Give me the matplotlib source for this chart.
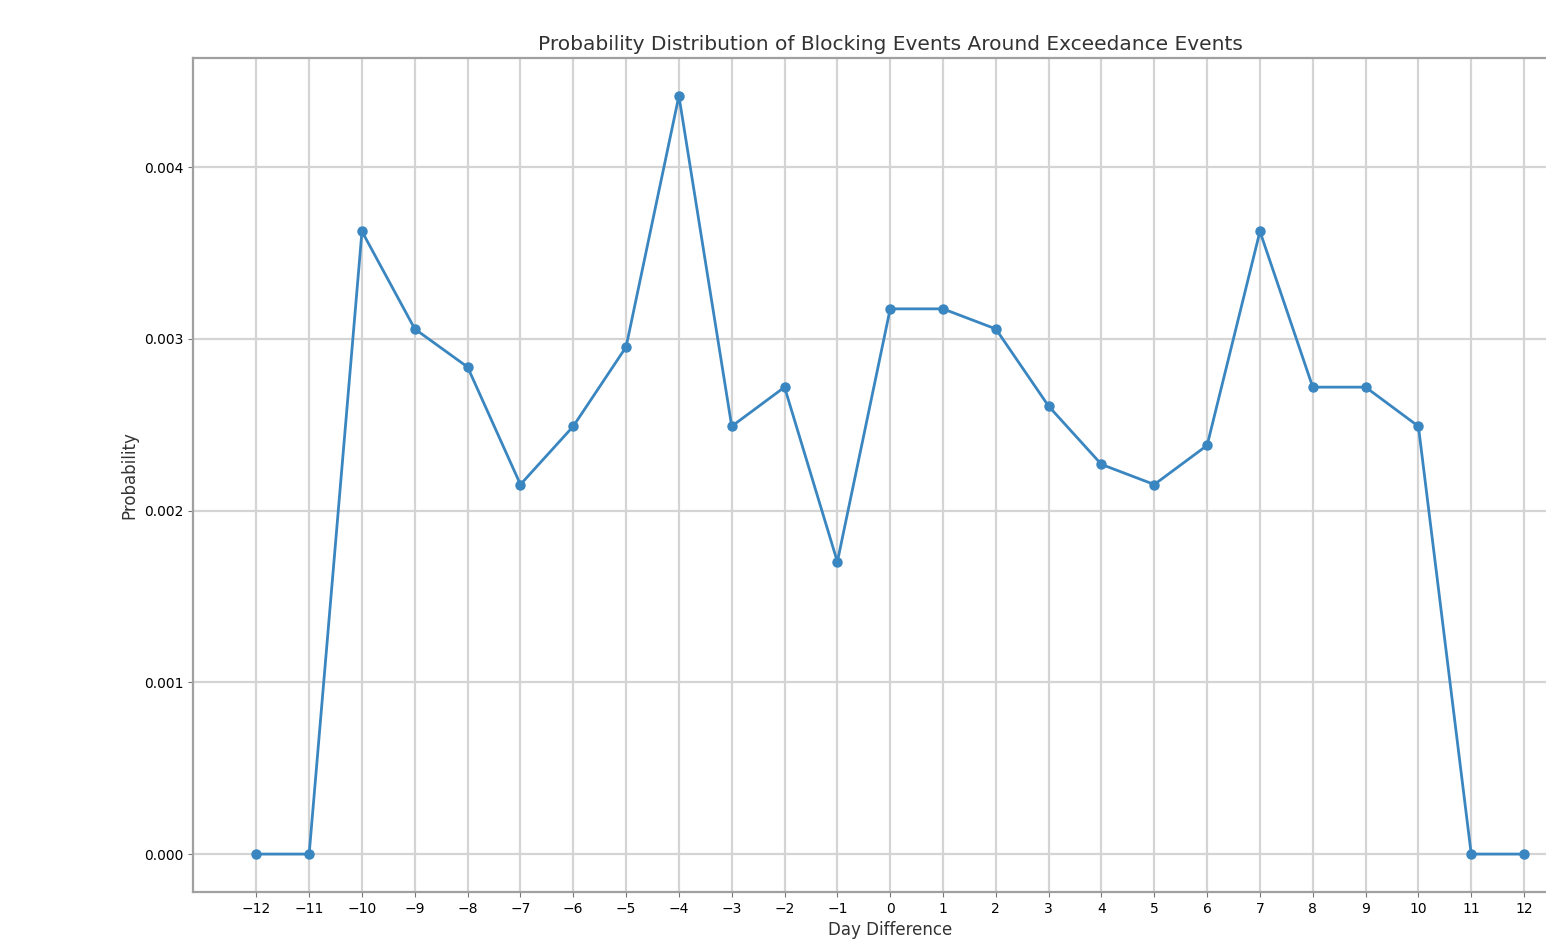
import matplotlib
matplotlib.use("Agg")
import matplotlib.pyplot as plt

day_difference = list(range(-12, 13))
probability = [
    0.0, 0.0, 0.003626, 0.003058, 0.002836, 0.002152, 0.002491, 0.002953,
    0.004415, 0.002491, 0.002719, 0.001702, 0.003175, 0.003175, 0.003058,
    0.002608, 0.002269, 0.002152, 0.002380, 0.003626, 0.002719, 0.002719,
    0.002491, 0.0, 0.0,
]

fig = plt.figure(figsize=(15.46, 9.46), dpi=100)
ax = fig.add_axes([0.1248, 0.0571, 0.902, 0.8816])

ax.plot(day_difference, probability, marker="o", color="#3a86c0",
        linewidth=2, markersize=6.5)
ax.set_xticks(day_difference)
ax.set_yticks([0.0, 0.001, 0.002, 0.003, 0.004])
ax.yaxis.set_major_formatter(matplotlib.ticker.FormatStrFormatter("%.3f"))
ax.tick_params(labelsize=10, color="#777777")
ax.grid(True, color="#d4d4d4", linewidth=1.6)

ax.set_title("Probability Distribution of Blocking Events Around Exceedance Events",
             fontsize=14.5, color="#333333", fontweight="medium")
ax.set_xlabel("Day Difference", fontsize=12, color="#333333")
ax.set_ylabel("Probability", fontsize=12, color="#333333")

for spine in ax.spines.values():
    spine.set_color("#a0a0a0")
    spine.set_linewidth(1.6)

fig.savefig("out.png", dpi=100)
